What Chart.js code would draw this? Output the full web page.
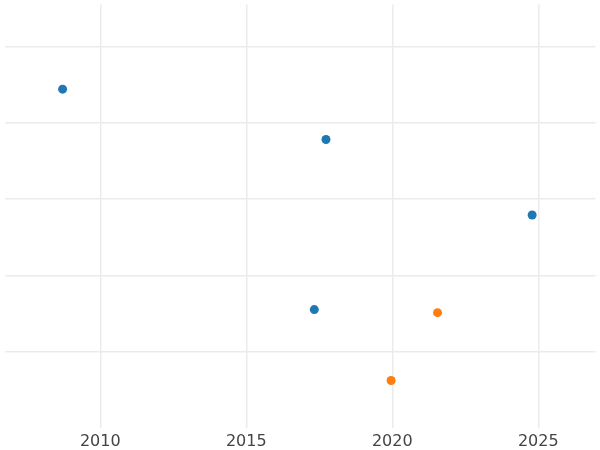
<!DOCTYPE html>
<html>
<head>
<meta charset="utf-8">
<script src="https://cdn.jsdelivr.net/npm/chart.js@4"></script>
<style>
  body { margin: 0; background: #fff; }
</style>
</head>
<body>
<canvas id="chart" width="600" height="450"></canvas>
<script>
// Data
const blueX = [2008.71, 2017.73, 2024.79, 2017.33];
const blueY = [4.44, 3.78, 2.79, 1.55];
const orangeX = [2021.55, 2019.96];
const orangeY = [1.51, 0.62];
const xTicks = [2010, 2015, 2020, 2025];
const yTicks = [1, 2, 3, 4, 5];

const toPoints = (xs, ys) => xs.map((x, i) => ({ x: x, y: ys[i] }));

new Chart(document.getElementById('chart').getContext('2d'), {
    type: 'scatter',
    data: {
        datasets: [
            { data: toPoints(blueX, blueY), backgroundColor: '#1f77b4', borderWidth: 0, pointRadius: 4.5 },
            { data: toPoints(orangeX, orangeY), backgroundColor: '#ff7f0e', borderWidth: 0, pointRadius: 4.5 }
        ]
    },
    options: {
        responsive: false,
        animation: false,
        layout: { padding: { left: -6, right: -4, top: -4, bottom: -5 } },
        plugins: { legend: { display: false }, tooltip: { enabled: false } },
        scales: {
            x: {
                type: 'linear',
                min: 2006.72,
                max: 2026.96,
                afterBuildTicks: axis => { axis.ticks = xTicks.map(v => ({ value: v })); },
                grid: { color: '#ebebeb', lineWidth: 1.5, drawTicks: false },
                border: { display: false },
                ticks: {
                    color: '#444',
                    font: { family: 'DejaVu Sans', size: 16 },
                    padding: 4,
                    maxRotation: 0,
                    callback: v => String(v)
                }
            },
            y: {
                min: 0,
                max: 5.55,
                afterBuildTicks: axis => { axis.ticks = yTicks.map(v => ({ value: v })); },
                grid: { color: '#ebebeb', lineWidth: 1.5, drawTicks: false },
                border: { display: false },
                ticks: { display: false }
            }
        }
    }
});
</script>
</body>
</html>
